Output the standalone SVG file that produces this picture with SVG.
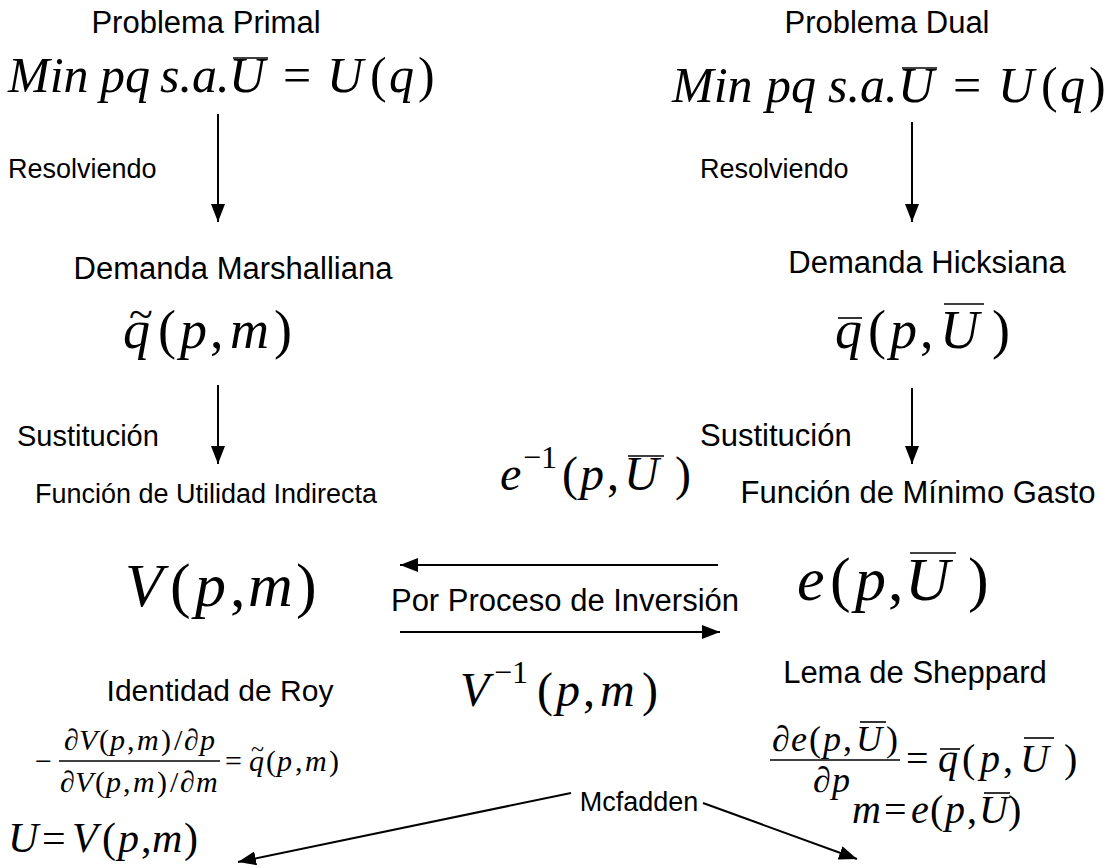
<svg xmlns="http://www.w3.org/2000/svg" width="1115" height="868" viewBox="0 0 1115 868">
<style>
.l{font-family:"Liberation Sans",Arial,sans-serif;font-size:31px;fill:#000}
.m{font-family:"Liberation Serif","Times New Roman",serif;font-style:italic;fill:#000}
.u{font-style:normal}
.bar{stroke:#000;stroke-width:1.6}
.c{stroke:#000;stroke-width:2;fill:none;marker-end:url(#ah)}
</style>
<defs>
<marker id="ah" markerUnits="userSpaceOnUse" markerWidth="20" markerHeight="14" refX="18" refY="7" orient="auto">
<path d="M0,0 L18,7 L0,14 z" fill="#000"/>
</marker>
</defs>
<rect width="1115" height="868" fill="#fff"/>

<g id="primal">
<text class="l" x="206" y="33" text-anchor="middle">Problema Primal</text>
<text class="m" y="92" font-size="50"><tspan x="8">Min</tspan><tspan x="100">pq</tspan><tspan x="160">s.a.</tspan><tspan x="229">U</tspan><tspan class="u" x="283">=</tspan><tspan x="327">U</tspan><tspan class="u" x="370">(</tspan><tspan x="389">q</tspan><tspan class="u" x="418">)</tspan></text>
<line class="bar" x1="233" y1="58" x2="268" y2="58"/>
</g>

<g id="dual">
<text class="l" x="887" y="33" text-anchor="middle">Problema Dual</text>
<text class="m" y="102" font-size="50"><tspan x="672">Min</tspan><tspan x="766">pq</tspan><tspan x="828">s.a.</tspan><tspan x="898">U</tspan><tspan class="u" x="953">=</tspan><tspan x="998">U</tspan><tspan class="u" x="1041">(</tspan><tspan x="1060">q</tspan><tspan class="u" x="1089">)</tspan></text>
<line class="bar" x1="902" y1="68" x2="937" y2="68"/>
</g>

<g id="marshall">
<text class="l" x="233" y="279" text-anchor="middle">Demanda Marshalliana</text>
<text class="m" y="348" font-size="54"><tspan x="123">q</tspan><tspan class="u" x="158">(</tspan><tspan x="180">p</tspan><tspan class="u" x="210">,</tspan><tspan x="230">m</tspan><tspan class="u" x="274">)</tspan></text>
<text class="m u" x="129" y="329" font-size="44">~</text>
</g>

<g id="hicks">
<text class="l" x="927" y="273" text-anchor="middle">Demanda Hicksiana</text>
<text class="m" y="348" font-size="54"><tspan x="835">q</tspan><tspan class="u" x="868">(</tspan><tspan x="890">p</tspan><tspan class="u" x="920">,</tspan><tspan x="940">U</tspan><tspan class="u" x="992">)</tspan></text>
<line class="bar" x1="838" y1="318" x2="862" y2="318"/>
<line class="bar" x1="944" y1="304" x2="984" y2="304"/>
</g>

<g id="indirecta">
<text class="l" x="206" y="503" text-anchor="middle" style="font-size:27px">Función de Utilidad Indirecta</text>
<text class="m" y="606" font-size="62"><tspan x="125">V</tspan><tspan class="u" x="170">(</tspan><tspan x="195">p</tspan><tspan class="u" x="230">,</tspan><tspan x="248">m</tspan><tspan class="u" x="296">)</tspan></text>
</g>

<g id="gasto">
<text class="l" x="918" y="503" text-anchor="middle">Función de Mínimo Gasto</text>
<text class="m" y="600" font-size="62"><tspan x="797">e</tspan><tspan class="u" x="830">(</tspan><tspan x="855">p</tspan><tspan class="u" x="888">,</tspan><tspan x="905">U</tspan><tspan class="u" x="968">)</tspan></text>
<line class="bar" x1="910" y1="553" x2="956" y2="553"/>
</g>

<g id="einv">
<text class="m" y="490" font-size="48"><tspan x="500">e</tspan><tspan class="u" x="523" y="468" font-size="32">−1</tspan><tspan class="u" x="562" y="490">(</tspan><tspan x="580">p</tspan><tspan class="u" x="607">,</tspan><tspan x="624">U</tspan><tspan class="u" x="675">)</tspan></text>
<line class="bar" x1="628" y1="456" x2="664" y2="456"/>
</g>

<g id="proceso">
<text class="l" x="565" y="611" text-anchor="middle">Por Proceso de Inversión</text>
</g>

<g id="vinv">
<text class="m" y="706" font-size="48"><tspan x="460">V</tspan><tspan class="u" x="494" y="683" font-size="32">−1</tspan><tspan class="u" x="537" y="706">(</tspan><tspan x="556">p</tspan><tspan class="u" x="583">,</tspan><tspan x="600">m</tspan><tspan class="u" x="642">)</tspan></text>
</g>

<g id="roy">
<text class="l" x="220" y="701" text-anchor="middle" style="font-size:30px">Identidad de Roy</text>
<text class="m u" x="35" y="771" font-size="30">−</text>
<text class="m" y="750" font-size="30"><tspan class="u" x="64">∂</tspan><tspan x="79">V</tspan><tspan class="u" x="99">(</tspan><tspan x="110">p</tspan><tspan class="u" x="127">,</tspan><tspan x="137">m</tspan><tspan class="u" x="161">)</tspan><tspan class="u" x="174">/</tspan><tspan class="u" x="184">∂</tspan><tspan x="200">p</tspan></text>
<line class="bar" x1="59" y1="761" x2="220" y2="761"/>
<text class="m" y="792" font-size="30"><tspan class="u" x="60">∂</tspan><tspan x="75">V</tspan><tspan class="u" x="95">(</tspan><tspan x="106">p</tspan><tspan class="u" x="123">,</tspan><tspan x="133">m</tspan><tspan class="u" x="157">)</tspan><tspan class="u" x="170">/</tspan><tspan class="u" x="180">∂</tspan><tspan x="196">m</tspan></text>
<text class="m" y="771" font-size="30"><tspan class="u" x="225">=</tspan><tspan x="249">q</tspan><tspan class="u" x="266">(</tspan><tspan x="277">p</tspan><tspan class="u" x="295">,</tspan><tspan x="305">m</tspan><tspan class="u" x="329">)</tspan></text>
<text class="m u" x="251" y="757" font-size="24">~</text>
</g>

<g id="sheppard">
<text class="l" x="915" y="683" text-anchor="middle">Lema de Sheppard</text>
<text class="m" y="751" font-size="36"><tspan class="u" x="772">∂</tspan><tspan x="791">e</tspan><tspan class="u" x="809">(</tspan><tspan x="823">p</tspan><tspan class="u" x="843">,</tspan><tspan x="856">U</tspan><tspan class="u" x="886">)</tspan></text>
<line class="bar" x1="860" y1="722" x2="886" y2="722"/>
<line class="bar" x1="770" y1="760" x2="900" y2="760"/>
<text class="m" y="792" font-size="36"><tspan class="u" x="813">∂</tspan><tspan x="832">p</tspan></text>
<text class="m" y="772" font-size="40"><tspan class="u" x="906">=</tspan><tspan x="938">q</tspan><tspan class="u" x="962">(</tspan><tspan x="980">p</tspan><tspan class="u" x="1003">,</tspan><tspan x="1020">U</tspan><tspan class="u" x="1064">)</tspan></text>
<line class="bar" x1="940" y1="749" x2="960" y2="749"/>
<line class="bar" x1="1024" y1="738" x2="1054" y2="738"/>
</g>

<g id="mcfadden">
<text class="l" x="639" y="811" text-anchor="middle" style="font-size:27px">Mcfadden</text>
</g>

<g id="uv">
<text class="m" y="852" font-size="42"><tspan x="8">U</tspan><tspan class="u" x="42">=</tspan><tspan x="72">V</tspan><tspan class="u" x="102">(</tspan><tspan x="118">p</tspan><tspan class="u" x="141">,</tspan><tspan x="152">m</tspan><tspan class="u" x="184">)</tspan></text>
</g>

<g id="me">
<text class="m" y="823" font-size="40"><tspan x="852">m</tspan><tspan class="u" x="884">=</tspan><tspan x="911">e</tspan><tspan class="u" x="930">(</tspan><tspan x="945">p</tspan><tspan class="u" x="967">,</tspan><tspan x="979">U</tspan><tspan class="u" x="1008">)</tspan></text>
<line class="bar" x1="984" y1="793" x2="1010" y2="793"/>
</g>

<g id="labels">
<text class="l" x="8" y="178" style="font-size:27px">Resolviendo</text>
<text class="l" x="700" y="178" style="font-size:27px">Resolviendo</text>
<text class="l" x="17" y="446" style="font-size:29px">Sustitución</text>
<text class="l" x="700" y="446">Sustitución</text>
</g>

<g id="connectors">
<line class="c" x1="218" y1="114" x2="218" y2="222"/>
<line class="c" x1="912" y1="122" x2="912" y2="222"/>
<line class="c" x1="218" y1="385" x2="218" y2="464"/>
<line class="c" x1="912" y1="388" x2="912" y2="464"/>
<line class="c" x1="718" y1="565" x2="400" y2="565"/>
<line class="c" x1="400" y1="632" x2="720" y2="632"/>
<line class="c" x1="571" y1="793" x2="238" y2="862"/>
<line class="c" x1="703" y1="803" x2="857" y2="859"/>
</g>
</svg>
